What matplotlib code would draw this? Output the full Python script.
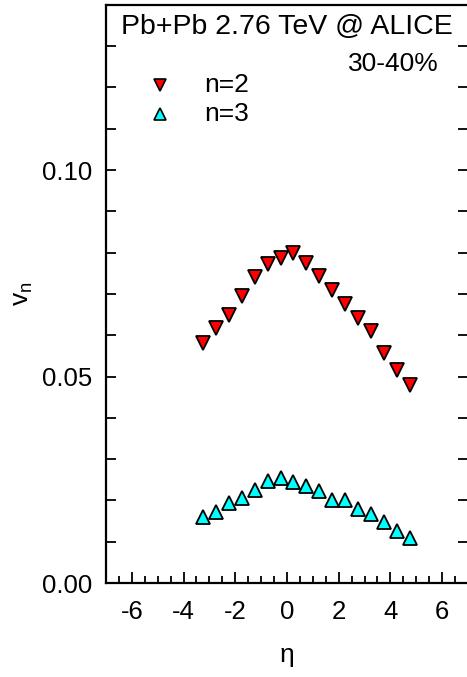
import matplotlib
matplotlib.use("Agg")
import matplotlib.pyplot as plt
from matplotlib.ticker import MultipleLocator

plt.rcParams["font.family"] = ["Liberation Sans", "DejaVu Sans"]
plt.rcParams["axes.unicode_minus"] = False

# pseudorapidity bins and flow coefficients (30-40%)
eta = [-3.25, -2.75, -2.25, -1.75, -1.25, -0.75, -0.25, 0.25, 0.75,
       1.25, 1.75, 2.25, 2.75, 3.25, 3.75, 4.25, 4.75]
v2 = [0.0582, 0.0618, 0.0650, 0.0695, 0.0742, 0.0772, 0.0788, 0.0798, 0.0774,
      0.0743, 0.0709, 0.0675, 0.0641, 0.0610, 0.0557, 0.0515, 0.0479]
v3 = [0.0159, 0.0172, 0.0193, 0.0206, 0.0226, 0.0248, 0.0254, 0.0244, 0.0234,
      0.0222, 0.0200, 0.0200, 0.0179, 0.0167, 0.0147, 0.0127, 0.0108]

fig = plt.figure(figsize=(4.67, 6.77), dpi=100)
ax = fig.add_axes([0.227, 0.1388, 0.775, 0.854])

ax.plot(eta, v2, linestyle="none", marker="v", markersize=9.5,
        markerfacecolor="red", markeredgecolor="black", markeredgewidth=1.3)
ax.plot(eta, v3, linestyle="none", marker="^", markersize=9.5,
        markerfacecolor="cyan", markeredgecolor="black", markeredgewidth=1.3)

ax.set_xlim(-7, 7)
ax.set_ylim(0, 0.14)
ax.xaxis.set_major_locator(MultipleLocator(2))
ax.xaxis.set_minor_locator(MultipleLocator(0.5))
ax.yaxis.set_major_locator(MultipleLocator(0.05))
ax.yaxis.set_minor_locator(MultipleLocator(0.01))
ax.yaxis.set_major_formatter(matplotlib.ticker.FormatStrFormatter("%.2f"))

ax.tick_params(which="both", direction="in", top=False, right=True,
               labelsize=18.5, width=1.3)
ax.tick_params(axis="x", which="major", length=8, pad=12)
ax.tick_params(axis="x", which="minor", length=5)
ax.tick_params(axis="y", which="major", length=7, pad=10)
ax.tick_params(axis="y", which="minor", length=7)
for s in ax.spines.values():
    s.set_linewidth(1.6)
ax.spines["right"].set_visible(False)

ax.set_xlabel("η", fontsize=19, labelpad=14)
ax.set_ylabel("v$_\\mathregular{n}$", fontsize=19, labelpad=5)

ax.text(0.5, 0.985, "Pb+Pb 2.76 TeV @ ALICE", transform=ax.transAxes,
        ha="center", va="top", fontsize=20.5)
ax.text(0.918, 0.918, "30-40%", transform=ax.transAxes,
        ha="right", va="top", fontsize=19)

# legend drawn by hand in axes coordinates
ax.plot([0.148], [0.862], transform=ax.transAxes, linestyle="none", marker="v",
        markersize=8, markerfacecolor="red", markeredgecolor="black",
        markeredgewidth=1.2)
ax.text(0.27, 0.862, "n=2", transform=ax.transAxes, ha="left", va="center",
        fontsize=19)
ax.plot([0.148], [0.811], transform=ax.transAxes, linestyle="none", marker="^",
        markersize=8, markerfacecolor="cyan", markeredgecolor="black",
        markeredgewidth=1.2)
ax.text(0.27, 0.811, "n=3", transform=ax.transAxes, ha="left", va="center",
        fontsize=19)

fig.savefig("out.png", dpi=100)
